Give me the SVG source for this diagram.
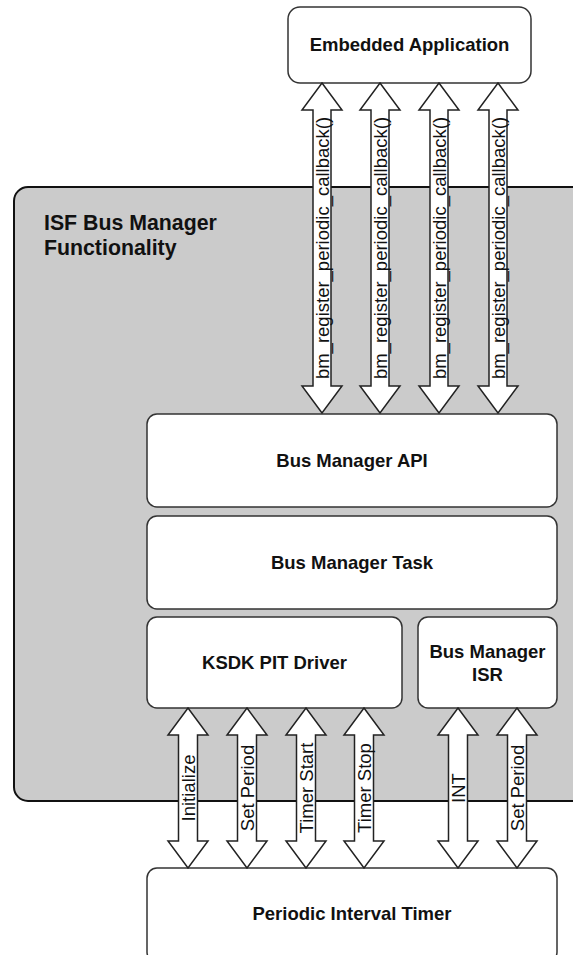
<svg xmlns="http://www.w3.org/2000/svg" width="573" height="955" viewBox="0 0 573 955">
<style>
.box{fill:#fff;stroke:#333;stroke-width:1.5}
.t{font-family:"Liberation Sans",Arial,sans-serif;font-weight:bold;font-size:18.5px;fill:#111;text-anchor:middle}
.h{font-family:"Liberation Sans",Arial,sans-serif;font-weight:bold;font-size:21.3px;fill:#111}
.lbl{font-family:"Liberation Sans",Arial,sans-serif;font-size:18.5px;fill:#111;text-anchor:middle}
.arr{fill:#fff;stroke:#222;stroke-width:1.5;stroke-linejoin:miter}
</style>
<rect width="573" height="955" fill="#fff"/>
<g id="isf">
<rect x="14" y="187" width="620" height="614" rx="14" fill="#cbcbcb" stroke="#111" stroke-width="2"/>
<text class="h" x="44" y="230">ISF Bus Manager</text>
<text class="h" x="44" y="255">Functionality</text>
</g>
<g id="app">
<rect class="box" x="288" y="7" width="243" height="76" rx="12"/>
<text class="t" x="409.5" y="51">Embedded Application</text>
</g>
<g id="api">
<rect class="box" x="147" y="414" width="410" height="93" rx="10"/>
<text class="t" x="352" y="467">Bus Manager API</text>
</g>
<g id="task">
<rect class="box" x="147" y="516" width="410" height="93" rx="10"/>
<text class="t" x="352" y="569">Bus Manager Task</text>
</g>
<g id="pit">
<rect class="box" x="147" y="617" width="255" height="91" rx="10"/>
<text class="t" x="274.5" y="669">KSDK PIT Driver</text>
</g>
<g id="isr">
<rect class="box" x="418" y="617" width="139" height="91" rx="10"/>
<text class="t" x="487.5" y="658">Bus Manager</text>
<text class="t" x="487.5" y="681">ISR</text>
</g>
<g id="timer">
<rect class="box" x="147" y="868" width="410" height="94" rx="10"/>
<text class="t" x="352" y="920">Periodic Interval Timer</text>
</g>
<g id="connectors">
<defs>
<polygon id="top" points="0,83 20,110 9,110 9,386 20,386 0,413 -20,386 -9,386 -9,110 -20,110" class="arr"/>
<polygon id="bot" points="0,708 20,735 9.5,735 9.5,841 20,841 0,868 -20,841 -9.5,841 -9.5,735 -20,735" class="arr"/>
</defs>
<use href="#top" x="322"/>
<use href="#top" x="380"/>
<use href="#top" x="439"/>
<use href="#top" x="498"/>
<text class="lbl" transform="translate(328.5,248) rotate(-90)">bm_register_periodic_callback()</text>
<text class="lbl" transform="translate(386.5,248) rotate(-90)">bm_register_periodic_callback()</text>
<text class="lbl" transform="translate(445.5,248) rotate(-90)">bm_register_periodic_callback()</text>
<text class="lbl" transform="translate(504.5,248) rotate(-90)">bm_register_periodic_callback()</text>
<use href="#bot" x="188"/>
<use href="#bot" x="247"/>
<use href="#bot" x="306"/>
<use href="#bot" x="364"/>
<use href="#bot" x="458"/>
<use href="#bot" x="517"/>
<text class="lbl" transform="translate(194.5,788) rotate(-90)">Initialize</text>
<text class="lbl" transform="translate(253.5,788) rotate(-90)">Set Period</text>
<text class="lbl" transform="translate(312.5,788) rotate(-90)">Timer Start</text>
<text class="lbl" transform="translate(370.5,788) rotate(-90)">Timer Stop</text>
<text class="lbl" transform="translate(464.5,788) rotate(-90)">INT</text>
<text class="lbl" transform="translate(523.5,788) rotate(-90)">Set Period</text>
</g>
</svg>
